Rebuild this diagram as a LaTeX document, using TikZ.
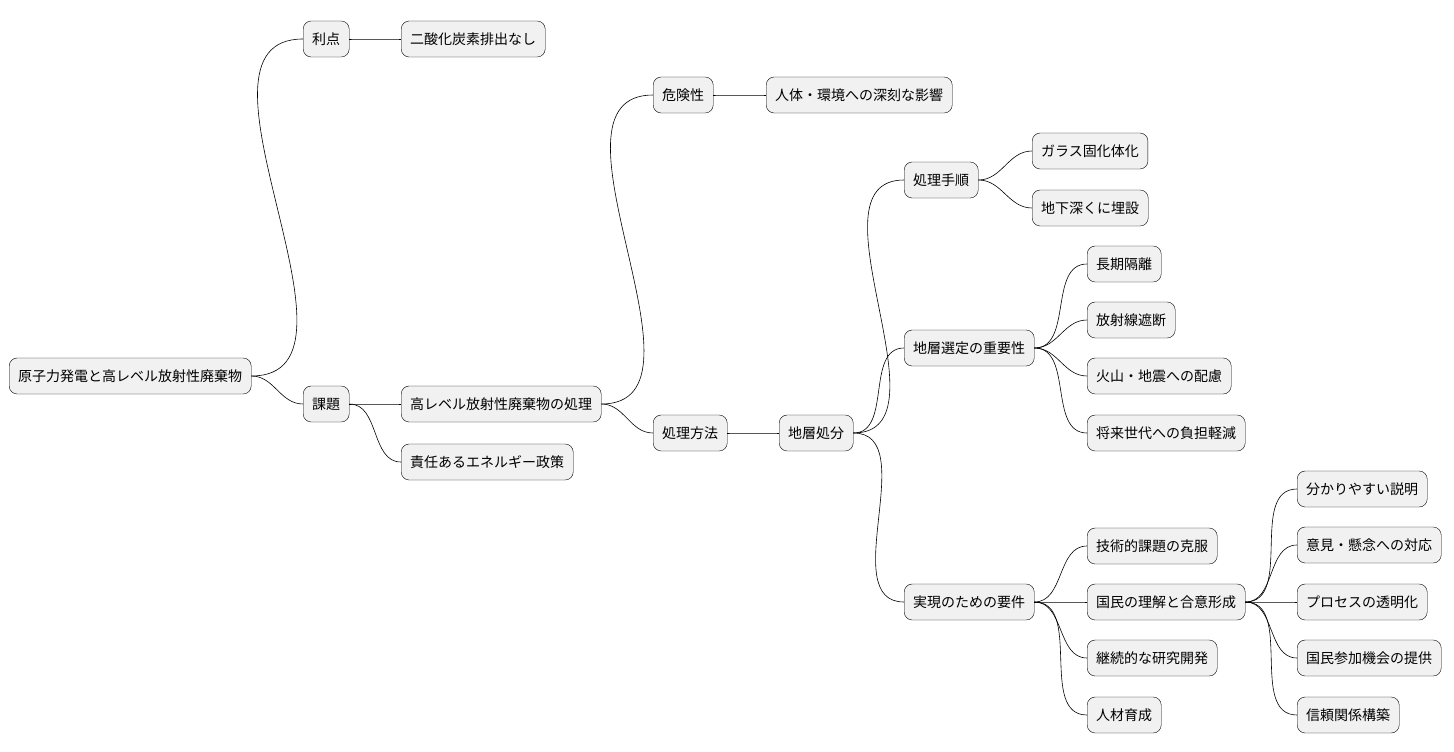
\documentclass[tikz,border=0pt]{standalone}
\usepackage{fontspec}
\setmainfont{Noto Sans CJK JP}
\begin{document}
\begin{tikzpicture}[x=1pt,y=-1pt]
  \tikzset{box/.style={draw=black,fill={rgb,255:red,241;green,241;blue,241},rounded corners=8pt,
      minimum height=36pt,inner xsep=9pt,anchor=west,font=\fontsize{14}{16}\selectfont},
    link/.style={draw=black,line width=0.6pt}}
  \useasboundingbox (0,0) rectangle (1454,752);
  % level 0 and 1
  \node[box] (root) at (9,376) {原子力発電と高レベル放射性廃棄物};
  \node[box] (riten) at (303,39) {利点};
  \node[box] (co) at (401,39) {二酸化炭素排出なし};
  \node[box] (kadai) at (303,404) {課題};
  \node[box] (shori) at (401,404) {高レベル放射性廃棄物の処理};
  \node[box] (seisaku) at (401,462) {責任あるエネルギー政策};
  \node[box] (kiken) at (653,95) {危険性};
  \node[box] (eikyo) at (766,95) {人体・環境への深刻な影響};
  \node[box] (hoho) at (653,433) {処理方法};
  \node[box] (chiso) at (779,433) {地層処分};
  % geological disposal
  \node[box] (tejun) at (904,180) {処理手順};
  \node[box] (glass) at (1032,151) {ガラス固化体化};
  \node[box] (maisetsu) at (1032,208) {地下深くに埋設};
  \node[box] (sentei) at (904,348) {地層選定の重要性};
  \node[box] (kakuri) at (1087,264) {長期隔離};
  \node[box] (shadan) at (1087,320) {放射線遮断};
  \node[box] (kazan) at (1087,376) {火山・地震への配慮};
  \node[box] (futan) at (1087,433) {将来世代への負担軽減};
  \node[box] (yoken) at (904,602) {実現のための要件};
  \node[box] (gijutsu) at (1087,546) {技術的課題の克服};
  \node[box] (gouі) at (1087,602) {国民の理解と合意形成};
  \node[box] (kenkyu) at (1087,658) {継続的な研究開発};
  \node[box] (jinzai) at (1087,715) {人材育成};
  \node[box] (setsumei) at (1297,489) {分かりやすい説明};
  \node[box] (taio) at (1297,545) {意見・懸念への対応};
  \node[box] (tomei) at (1297,602) {プロセスの透明化};
  \node[box] (sanka) at (1297,658) {国民参加機会の提供};
  \node[box] (shinrai) at (1297,715) {信頼関係構築};
  % connectors
  \foreach \p/\c in {root/riten,root/kadai,riten/co,kadai/shori,kadai/seisaku,
      shori/kiken,shori/hoho,kiken/eikyo,hoho/chiso,chiso/tejun,chiso/sentei,chiso/yoken,
      tejun/glass,tejun/maisetsu,sentei/kakuri,sentei/shadan,sentei/kazan,sentei/futan,
      yoken/gijutsu,yoken/gouі,yoken/kenkyu,yoken/jinzai,
      gouі/setsumei,gouі/taio,gouі/tomei,gouі/sanka,gouі/shinrai}
    \draw[link] (\p.east) to[out=0,in=180] (\c.west);
\end{tikzpicture}
\end{document}
